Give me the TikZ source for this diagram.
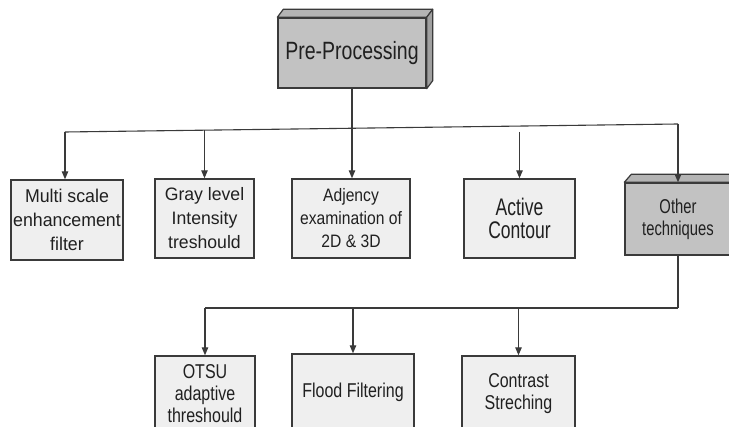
\documentclass[tikz,border=0pt]{standalone}
\usepackage{fontspec}
\setmainfont{Liberation Sans}
\usetikzlibrary{arrows.meta,calc}
\definecolor{edge}{HTML}{3A3A3A}
\definecolor{lightbox}{HTML}{EFEFEF}
\definecolor{darkbox}{HTML}{C2C2C2}
\definecolor{darktop}{HTML}{B4B4B4}
\definecolor{darkside}{HTML}{A0A0A0}
\definecolor{txt}{HTML}{202020}
\newcommand{\sfnt}[3]{\fontsize{#1}{#2}\selectfont\addfontfeature{FakeStretch=#3}}
\tikzset{
  boxbase/.style={draw=edge, line width=1.4pt, rectangle, inner sep=0pt, align=center, text=txt},
  lightnode/.style={boxbase, fill=lightbox},
  darknode/.style={boxbase, fill=darkbox},
  conn/.style={draw=edge, line width=1.1pt},
  arr/.style={conn, -{Triangle[length=8pt,width=6.5pt]}},
  face/.style={draw=edge, line width=1.2pt, line join=round}
}
\begin{document}
\begin{tikzpicture}[x=1pt,y=-1pt]
\useasboundingbox (0,0) rectangle (729,427);
\fill[white] (0,0) rectangle (729,427);
\begin{scope}
\clip (0,0) rectangle (729,427);

% top node with 3D faces
\node[darknode, minimum width=148pt, minimum height=70pt,
      font=\sfnt{25}{28}{0.78}] (pre) at (352,53) {Pre-Processing};
\filldraw[face, fill=darktop] (pre.north west) -- ++(6,-8) -- ($(pre.north east)+(6,-8)$) -- (pre.north east) -- cycle;
\filldraw[face, fill=darkside] (pre.north east) -- ++(6,-8) -- ($(pre.south east)+(6,-8)$) -- (pre.south east) -- cycle;

% first row
\node[lightnode, font=\sfnt{18.5}{24}{0.96}, minimum width=112pt, minimum height=80pt] (a1) at (67,220) {Multi scale\\enhancement\\filter};
\node[lightnode, font=\sfnt{18}{24}{0.98}, minimum width=99pt, minimum height=79pt] (a2) at (204.5,218.5) {Gray level\\Intensity\\treshould};
\node[lightnode, font=\sfnt{18}{23}{0.87}, minimum width=118pt, minimum height=79pt] (a3) at (351,218.5) {Adjency\\examination of\\2D \& 3D};
\node[lightnode, font=\sfnt{24}{23}{0.73}, minimum width=111pt, minimum height=79pt] (a4) at (519.5,218.5) {Active\\Contour};
\node[darknode, font=\sfnt{20}{22}{0.74}, minimum width=106pt, minimum height=72pt] (a5) at (678,219) {Other\\techniques};
\filldraw[face, fill=darktop] (a5.north west) -- ++(7,-8) -- ($(a5.north east)+(7,-8)$) -- (a5.north east) -- cycle;

% second row
\node[lightnode, font=\sfnt{20}{22}{0.8}, minimum width=100pt, minimum height=76pt] (b1) at (205,394) {OTSU\\adaptive\\threshould};
\node[lightnode, font=\sfnt{20}{22}{0.8}, minimum width=122pt, minimum height=76pt] (b2) at (353,392) {Flood Filtering};
\node[lightnode, font=\sfnt{20}{22}{0.8}, minimum width=113pt, minimum height=76pt] (b3) at (518.5,394) {Contrast\\Streching};

% bus 1
\coordinate (hubL) at (65,132);
\coordinate (hub2) at (204.5,130.2);
\coordinate (hubC) at (352,128.3);
\coordinate (hub4) at (519.5,132);
\coordinate (hubR) at (678,124);
\draw[conn] (pre.south) -- (hubC);
\draw[conn] (hubL) -- (hubR);
\draw[arr] (hubL) -- (a1.north -| hubL);
\draw[arr] (hub2) -- (a2.north);
\draw[arr] (hubC) -- (a3.north -| hubC);
\draw[arr] (hub4) -- (a4.north);
\draw[arr] (hubR) -- (a5.north);

% bus 2
\coordinate (busR) at (678,308);
\coordinate (busL) at (205,308);
\coordinate (busM) at (353,308);
\coordinate (busN) at (518.5,308);
\draw[conn] (a5.south) -- (busR);
\draw[conn] (busL) -- (busR);
\draw[arr] (busL) -- (b1.north);
\draw[arr] (busM) -- (b2.north -| busM);
\draw[arr] (busN) -- (b3.north);
\end{scope}
\end{tikzpicture}
\end{document}
